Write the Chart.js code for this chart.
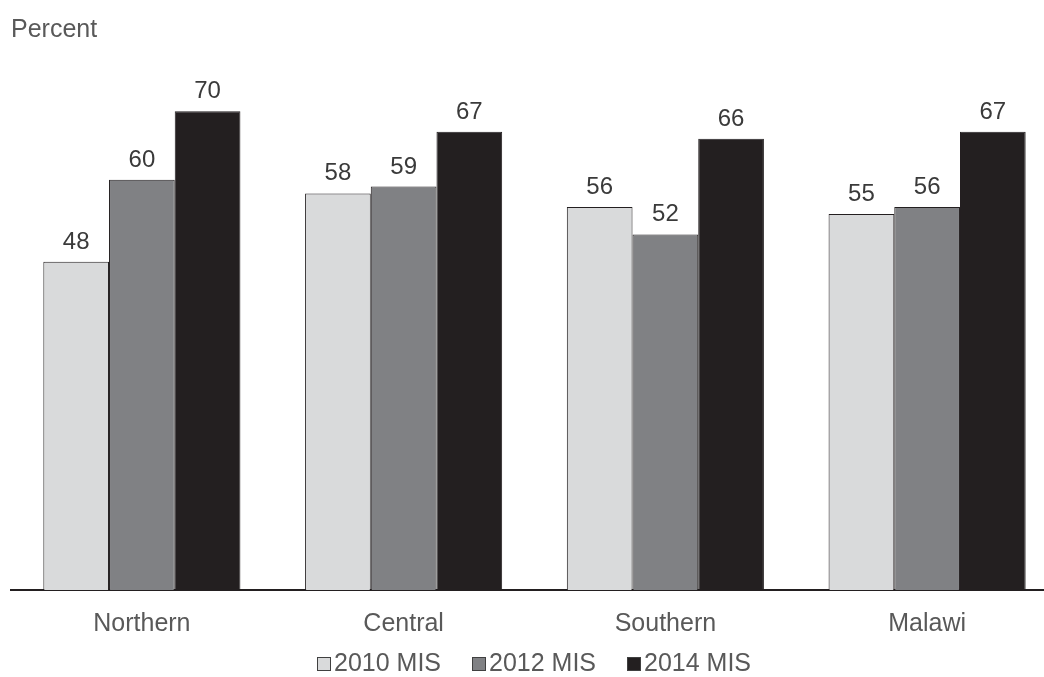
<!DOCTYPE html>
<html>
<head>
<meta charset="utf-8">
<script src="https://cdn.jsdelivr.net/npm/chart.js@4.4.1/dist/chart.umd.min.js"></script>
<style>
  html, body { margin: 0; padding: 0; background: #fff; overflow: hidden; }
  #wrap { width: 1058px; height: 677px; position: relative; }
  #legend {
    position: absolute; left: 317px; top: 647px;
    font: 25px 'Liberation Sans', Arial, sans-serif; color: #595959;
    line-height: 30px; white-space: nowrap;
  }
  .item { display: inline-block; margin-right: 31px; }
  .box { display: inline-block; width: 12px; height: 12px; border: 1px solid #404040;
         margin-right: 3px; vertical-align: 0px; }
</style>
</head>
<body>
<div id="wrap"><canvas id="myChart"></canvas><div id="legend"></div></div>
<script>
let regions = ["Northern", "Central", "Southern", "Malawi"];
let seriesNames = ["2010 MIS", "2012 MIS", "2014 MIS"];
let mis2010 = [48, 58, 56, 55];
let mis2012 = [60, 59, 52, 56];
let mis2014 = [70, 67, 66, 67];
let barColors = ["#d9dadb", "#808184", "#231f20"];
let fontName = "'Liberation Sans', Arial, sans-serif";

// draws the value above each bar
let valueLabels = {
  id: "valueLabels",
  afterDatasetsDraw(chart) {
    let ctx = chart.ctx;
    ctx.save();
    ctx.font = "24px " + fontName;
    ctx.fillStyle = "#3a3a3a";
    ctx.textAlign = "center";
    ctx.textBaseline = "alphabetic";
    chart.data.datasets.forEach(function(ds, i) {
      chart.getDatasetMeta(i).data.forEach(function(bar, j) {
        ctx.fillText(ds.data[j], bar.x, bar.y - 13);
      });
    });
    ctx.restore();
  }
};

let chart = new Chart("myChart", {
  type: "bar",
  data: {
    labels: regions,
    datasets: [
      { label: seriesNames[0], data: mis2010, backgroundColor: barColors[0] },
      { label: seriesNames[1], data: mis2012, backgroundColor: barColors[1] },
      { label: seriesNames[2], data: mis2014, backgroundColor: barColors[2] }
    ]
  },
  options: {
    responsive: true,
    maintainAspectRatio: false,
    animation: false,
    categoryPercentage: 0.753,
    barPercentage: 1,
    borderColor: "#231f20",
    borderWidth: 1,
    layout: { padding: { left: 11, right: 0, top: 0, bottom: 19 } },
    plugins: {
      title: {
        display: true,
        text: "Percent",
        align: "start",
        color: "#595959",
        font: { family: fontName, size: 25, weight: "normal" },
        padding: { top: 15, bottom: 0 }
      },
      legend: { display: false },
      tooltip: { enabled: false }
    },
    scales: {
      x: {
        grid: { display: false, drawTicks: false },
        border: { display: true, color: "#231f20", width: 2 },
        ticks: {
          color: "#595959",
          font: { family: fontName, size: 25 },
          padding: 19
        }
      },
      y: {
        display: false,
        min: 0,
        max: 79.7
      }
    }
  },
  plugins: [valueLabels]
});

// legend built from the same series
let legendHtml = "";
chart.data.datasets.forEach(function(ds) {
  legendHtml += "<span class='item'><span class='box' style='background:" + ds.backgroundColor + "'></span>" + ds.label + "</span>";
});
document.getElementById("legend").innerHTML = legendHtml;
</script>
</body>
</html>
